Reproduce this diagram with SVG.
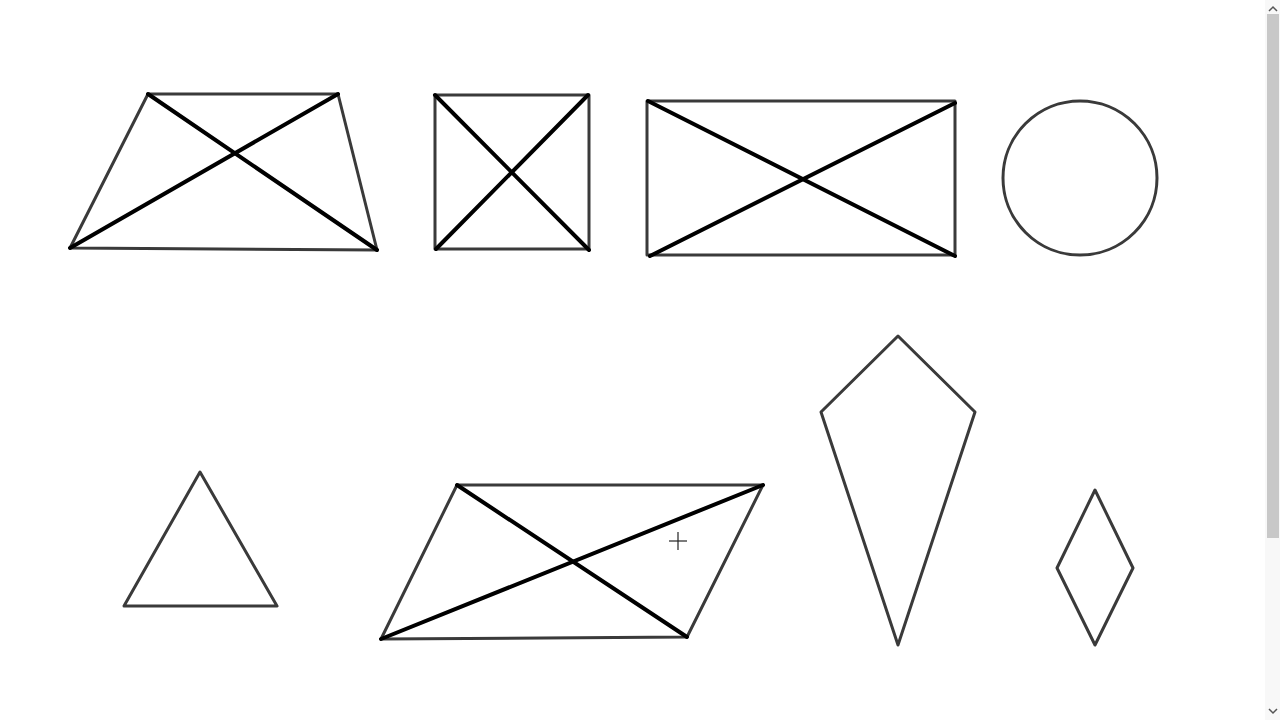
<svg xmlns="http://www.w3.org/2000/svg" width="1280" height="720" viewBox="0 0 1280 720">
<style>
.outline{fill:none;stroke:#3a3a3a;stroke-width:3;stroke-linejoin:round;stroke-linecap:round}
.diag{fill:none;stroke:#000;stroke-width:4;stroke-linecap:round}
.cursor{stroke:#222;stroke-width:1.2}
</style>
<rect x="0" y="0" width="1280" height="720" fill="#ffffff"/>
<g id="trapezoid">
<polygon class="outline" points="148,94 338,94 377,250 70,248"/>
<line class="diag" x1="148" y1="94" x2="377" y2="250"/>
<line class="diag" x1="70" y1="248" x2="338" y2="94"/>
</g>
<g id="square">
<rect class="outline" x="435" y="95" width="154" height="154"/>
<line class="diag" x1="435" y1="95" x2="589" y2="250"/>
<line class="diag" x1="436" y1="249" x2="588" y2="95"/>
</g>
<g id="rectangle">
<rect class="outline" x="647" y="101" width="308" height="154"/>
<line class="diag" x1="648" y1="101" x2="955" y2="256"/>
<line class="diag" x1="650" y1="256" x2="955" y2="103"/>
</g>
<g id="circle">
<circle class="outline" cx="1080" cy="178" r="77"/>
</g>
<g id="triangle">
<polygon class="outline" points="200,472 277,606 124,606"/>
</g>
<g id="parallelogram">
<polygon class="outline" points="457,485 763,485 687,637 381,639"/>
<line class="diag" x1="457" y1="485" x2="687" y2="637"/>
<line class="diag" x1="381" y1="639" x2="763" y2="485"/>
</g>
<g id="kite">
<polygon class="outline" points="898,336 975,412 898,645 821,412"/>
</g>
<g id="rhombus">
<polygon class="outline" points="1095,490 1133,568 1095,645 1057,568"/>
</g>
<g id="cursor">
<line class="cursor" x1="669" y1="541" x2="687" y2="541"/>
<line class="cursor" x1="678" y1="532" x2="678" y2="550"/>
</g>
<g id="scrollbar">
<rect x="1265" y="0" width="15" height="720" fill="#f8f8f8"/>
<rect x="1267" y="14" width="12" height="524" fill="#c8c8c8"/>
<path d="M1269,11 L1273,7 L1277,11" fill="none" stroke="#555" stroke-width="1.5"/>
<path d="M1269,709 L1273,713 L1277,709" fill="none" stroke="#555" stroke-width="1.5"/>
</g>
</svg>
